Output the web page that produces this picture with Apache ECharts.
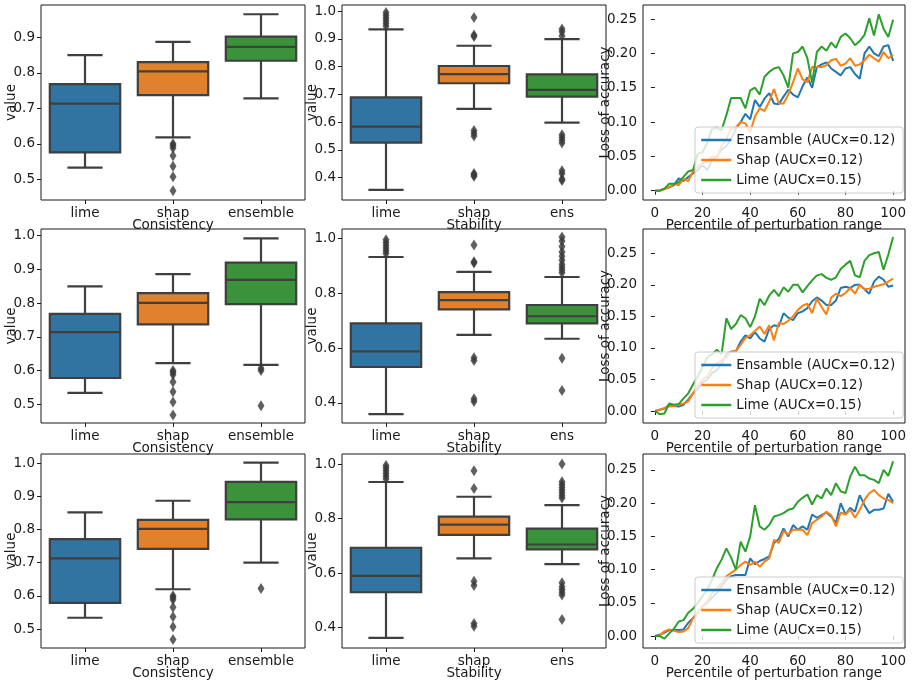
<!DOCTYPE html>
<html><head><meta charset="utf-8">
<script src="https://cdn.jsdelivr.net/npm/echarts@6/dist/echarts.min.js"></script>
<style>html,body{margin:0;padding:0;background:#fff}#c{width:912px;height:682px}</style>
</head><body><div id="c"></div>
<script>
// ---------------- DATA ----------------
const consistCats = ['lime', 'shap', 'ensemble'];
const stabCats = ['lime', 'shap', 'ens'];
// box stats: [low whisker, Q1, median, Q3, high whisker] for each method
const consistBoxR1 = [[0.533,0.576,0.713,0.768,0.850],[0.618,0.737,0.804,0.830,0.887],[0.728,0.834,0.873,0.902,0.965]];
const consistOutR1 = [[], [0.600,0.595,0.588,0.566,0.537,0.507,0.468], []];
const consistBoxR2 = [[0.534,0.578,0.714,0.768,0.850],[0.622,0.737,0.801,0.830,0.886],[0.617,0.797,0.869,0.920,0.992]];
const consistOutR2 = [[], [0.600,0.595,0.588,0.566,0.537,0.507,0.468], [0.607,0.600,0.496]];
const consistBoxR3 = [[0.534,0.579,0.713,0.771,0.852],[0.620,0.742,0.802,0.829,0.887],[0.700,0.831,0.883,0.944,1.002]];
const consistOutR3 = [[], [0.600,0.595,0.588,0.566,0.537,0.507,0.468], [0.622]];

const stabBoxR1 = [[0.356,0.526,0.584,0.689,0.934],[0.648,0.740,0.773,0.802,0.875],[0.598,0.692,0.716,0.772,0.899]];
const stabOutR1 = [[0.945,0.955,0.965,0.975,0.985,0.995],[0.977,0.914,0.908,0.570,0.560,0.550,0.415,0.410,0.405],[0.935,0.925,0.910,0.555,0.545,0.535,0.525,0.425,0.415,0.395,0.390]];
const stabBoxR2 = [[0.359,0.531,0.588,0.690,0.932],[0.648,0.741,0.775,0.804,0.878],[0.634,0.690,0.716,0.757,0.859]];
const stabOutR2 = [[0.945,0.955,0.965,0.975,0.985,0.995],[0.976,0.915,0.910,0.565,0.555,0.415,0.405],[1.005,0.990,0.970,0.950,0.935,0.920,0.905,0.895,0.885,0.875,0.563,0.445]];
const stabBoxR3 = [[0.363,0.530,0.590,0.693,0.934],[0.654,0.740,0.778,0.807,0.880],[0.633,0.687,0.705,0.763,0.849]];
const stabOutR3 = [[0.945,0.955,0.965,0.975,0.985,0.995],[0.975,0.910,0.570,0.555,0.415,0.405],[1.000,0.935,0.925,0.915,0.905,0.895,0.885,0.875,0.565,0.550,0.540,0.530,0.520,0.430]];

const percentile = [0,2,4,6,8,10,12,14,16,18,20,22,24,26,28,30,32,34,36,38,40,42,44,46,48,50,52,54,56,58,60,62,64,66,68,70,72,74,76,78,80,82,84,86,88,90,92,94,96,98,100];
const lineNames = ['Ensamble (AUCx=0.12)', 'Shap (AUCx=0.12)', 'Lime (AUCx=0.15)'];

const ensR1 = [0,0,0.003,0.005,0.008,0.018,0.014,0.02,0.025,0.03,0.037,0.03,0.045,0.05,0.06,0.065,0.075,0.09,0.1,0.112,0.104,0.132,0.122,0.134,0.142,0.127,0.126,0.137,0.147,0.14,0.136,0.152,0.165,0.15,0.18,0.184,0.187,0.178,0.173,0.168,0.178,0.18,0.17,0.163,0.2,0.21,0.2,0.196,0.21,0.212,0.189];
const shapR1 = [0,0,0.002,0.005,0.01,0.008,0.017,0.014,0.028,0.035,0.04,0.042,0.05,0.048,0.065,0.075,0.09,0.092,0.1,0.098,0.085,0.108,0.12,0.116,0.13,0.148,0.127,0.127,0.14,0.158,0.178,0.162,0.158,0.18,0.18,0.18,0.183,0.19,0.192,0.182,0.185,0.193,0.182,0.184,0.19,0.198,0.193,0.188,0.202,0.193,0.198];
const limeR1 = [0,0,0.003,0.01,0.01,0.012,0.02,0.028,0.03,0.054,0.056,0.07,0.09,0.092,0.088,0.11,0.135,0.135,0.135,0.12,0.146,0.15,0.14,0.166,0.173,0.178,0.18,0.168,0.15,0.2,0.202,0.21,0.193,0.157,0.202,0.21,0.204,0.216,0.208,0.224,0.229,0.222,0.212,0.218,0.227,0.251,0.226,0.257,0.236,0.224,0.249];

const ensR2 = [0,0.002,0.004,0.01,0.008,0.007,0.01,0.018,0.028,0.035,0.045,0.05,0.06,0.065,0.075,0.09,0.094,0.095,0.11,0.12,0.115,0.125,0.115,0.11,0.13,0.136,0.134,0.155,0.148,0.144,0.155,0.158,0.163,0.174,0.18,0.175,0.168,0.168,0.175,0.195,0.197,0.195,0.2,0.2,0.193,0.186,0.205,0.213,0.208,0.197,0.199];
const shapR2 = [0,0.002,0.005,0.007,0.008,0.01,0.012,0.015,0.028,0.04,0.05,0.055,0.068,0.075,0.08,0.085,0.094,0.095,0.105,0.116,0.12,0.127,0.134,0.122,0.136,0.112,0.14,0.138,0.143,0.15,0.16,0.167,0.17,0.155,0.178,0.165,0.153,0.18,0.186,0.182,0.187,0.195,0.186,0.2,0.193,0.194,0.197,0.199,0.201,0.205,0.21];
const limeR2 = [0,-0.005,-0.004,0.012,0.01,0.011,0.02,0.028,0.042,0.055,0.07,0.085,0.09,0.097,0.09,0.147,0.13,0.138,0.152,0.147,0.133,0.15,0.178,0.168,0.183,0.192,0.182,0.196,0.189,0.2,0.2,0.188,0.198,0.207,0.215,0.217,0.211,0.208,0.212,0.225,0.232,0.238,0.215,0.212,0.238,0.247,0.25,0.252,0.224,0.248,0.276];

const ensR3 = [0,0.002,0.005,0.009,0.009,0.009,0.01,0.02,0.027,0.035,0.045,0.05,0.058,0.065,0.075,0.085,0.09,0.092,0.092,0.092,0.117,0.108,0.113,0.116,0.12,0.14,0.146,0.162,0.15,0.167,0.16,0.165,0.16,0.183,0.178,0.182,0.186,0.18,0.17,0.2,0.183,0.193,0.187,0.212,0.197,0.185,0.19,0.19,0.192,0.214,0.202];
const shapR3 = [0,0.001,0.007,0.01,0.008,0.006,0.007,0.012,0.027,0.035,0.045,0.052,0.065,0.072,0.08,0.09,0.095,0.1,0.107,0.112,0.107,0.112,0.104,0.112,0.117,0.145,0.14,0.158,0.153,0.16,0.16,0.16,0.152,0.17,0.175,0.18,0.187,0.182,0.165,0.186,0.183,0.19,0.178,0.19,0.205,0.215,0.22,0.212,0.207,0.205,0.2];
const limeR3 = [0,0,-0.004,0.004,0.011,0.022,0.024,0.035,0.041,0.05,0.06,0.07,0.085,0.102,0.115,0.132,0.118,0.1,0.142,0.127,0.15,0.197,0.165,0.16,0.167,0.18,0.182,0.185,0.19,0.192,0.202,0.208,0.213,0.198,0.212,0.207,0.222,0.212,0.23,0.218,0.215,0.24,0.255,0.242,0.242,0.237,0.235,0.23,0.25,0.241,0.263];

// tick values
const consistTicksR1 = [0.5,0.6,0.7,0.8,0.9];
const consistTicks = [0.5,0.6,0.7,0.8,0.9,1.0];
const stabTicksR1 = [0.4,0.5,0.6,0.7,0.8,0.9,1.0];
const stabTicks = [0.4,0.6,0.8,1.0];
const lossTicks = [0,0.05,0.10,0.15,0.20,0.25];
const pctTicks = [0,20,40,60,80,100];

// ---------------- STYLE / LAYOUT ----------------
const FONT = 'DejaVu Sans';
const FS = 13.5;
const TXT = '#1a1a1a';
const EDGE = '#3f3f3f';
const boxColors = ['#3274a1', '#e1812c', '#3a923a'];
const lineColors = ['#1f77b4', '#ff7f0e', '#2ca02c'];
const colLeft = [41, 342, 643], colW = [264, 264, 262];
const rowTop = [5, 229, 454], rowH = [195, 194, 194];
const yExt = [
  [[0.4417,0.991],[0.3197,1.0216],[-0.0136,0.2705]],
  [[0.4446,1.020],[0.327,1.034],[-0.019,0.2885]],
  [[0.4427,1.028],[0.3256,1.0367],[-0.018,0.274]]
];

const rows = [
  {cb: consistBoxR1, co: consistOutR1, ct: consistTicksR1, sb: stabBoxR1, so: stabOutR1, st: stabTicksR1, lines: [ensR1, shapR1, limeR1]},
  {cb: consistBoxR2, co: consistOutR2, ct: consistTicks, sb: stabBoxR2, so: stabOutR2, st: stabTicks, lines: [ensR2, shapR2, limeR2]},
  {cb: consistBoxR3, co: consistOutR3, ct: consistTicks, sb: stabBoxR3, so: stabOutR3, st: stabTicks, lines: [ensR3, shapR3, limeR3]}
];

function renderBox(params, api) {
  const i = api.value(0);
  const lo = api.coord([i, api.value(1)]);
  const q1 = api.coord([i, api.value(2)]);
  const md = api.coord([i, api.value(3)]);
  const q3 = api.coord([i, api.value(4)]);
  const hi = api.coord([i, api.value(5)]);
  const band = api.size([1, 0])[0];
  const bw = band * 0.8, cw = bw / 2, cx = q1[0];
  const ls = {stroke: EDGE, lineWidth: 2.2};
  return {type: 'group', children: [
    {type: 'line', shape: {x1: cx, y1: lo[1], x2: cx, y2: q1[1]}, style: ls},
    {type: 'line', shape: {x1: cx, y1: q3[1], x2: cx, y2: hi[1]}, style: ls},
    {type: 'line', shape: {x1: cx - cw/2, y1: lo[1], x2: cx + cw/2, y2: lo[1]}, style: ls},
    {type: 'line', shape: {x1: cx - cw/2, y1: hi[1], x2: cx + cw/2, y2: hi[1]}, style: ls},
    {type: 'rect', shape: {x: cx - bw/2, y: q3[1], width: bw, height: q1[1] - q3[1]}, style: {fill: boxColors[i], stroke: EDGE, lineWidth: 2.2}},
    {type: 'line', shape: {x1: cx - bw/2, y1: md[1], x2: cx + bw/2, y2: md[1]}, style: ls}
  ]};
}

const grids = [], xAxes = [], yAxes = [], series = [], legends = [];
const lab = (fmt) => ({color: TXT, fontSize: FS, fontFamily: FONT, formatter: fmt});
const tick = (vals) => ({show: true, length: 4, lineStyle: {color: TXT, width: 1}, customValues: vals});

rows.forEach((r, ri) => {
  for (let ci = 0; ci < 3; ci++) {
    const g = ri * 3 + ci;
    grids.push({left: colLeft[ci], top: rowTop[ri], width: colW[ci], height: rowH[ri], show: true, borderColor: TXT, borderWidth: 1, backgroundColor: 'transparent'});
    const nameStyle = {color: TXT, fontSize: FS, fontFamily: FONT};
    if (ci < 2) {
      const cats = ci === 0 ? consistCats : stabCats;
      xAxes.push({gridIndex: g, type: 'category', data: cats, boundaryGap: true,
        axisLine: {show: false}, axisTick: {show: true, alignWithLabel: true, length: 4, lineStyle: {color: TXT}},
        axisLabel: {color: TXT, fontSize: FS, fontFamily: FONT, margin: 6},
        name: ci === 0 ? 'Consistency' : 'Stability', nameLocation: 'middle', nameGap: 18, nameMoveOverlap: false, nameTextStyle: nameStyle});
      const ticks = ci === 0 ? r.ct : r.st;
      yAxes.push({gridIndex: g, type: 'value', min: yExt[ri][ci][0], max: yExt[ri][ci][1],
        splitLine: {show: false}, axisLine: {show: false},
        axisTick: tick(ticks), axisLabel: Object.assign(lab(v => v.toFixed(1)), {customValues: ticks, margin: 6}),
        name: 'value', nameLocation: 'middle', nameGap: 23, nameRotate: 90, nameMoveOverlap: false, nameTextStyle: nameStyle});
      const box = ci === 0 ? r.cb : r.sb;
      const outs = ci === 0 ? r.co : r.so;
      series.push({type: 'custom', xAxisIndex: g, yAxisIndex: g, renderItem: renderBox,
        encode: {x: 0, y: [1, 2, 3, 4, 5]},
        data: box.map((b, k) => [k].concat(b))});
      const od = [];
      outs.forEach((arr, k) => arr.forEach(v => od.push([k, v])));
      series.push({type: 'scatter', xAxisIndex: g, yAxisIndex: g, data: od, symbol: 'diamond', symbolSize: [7, 11],
        itemStyle: {color: '#383838'}, z: 3});
    } else {
      xAxes.push({gridIndex: g, type: 'value', min: -5, max: 105, splitLine: {show: false}, axisLine: {show: false},
        axisTick: tick(pctTicks), axisLabel: Object.assign(lab(v => String(v)), {customValues: pctTicks, margin: 6}),
        name: 'Percentile of perturbation range', nameLocation: 'middle', nameGap: 18, nameMoveOverlap: false, nameTextStyle: nameStyle});
      yAxes.push({gridIndex: g, type: 'value', min: yExt[ri][ci][0], max: yExt[ri][ci][1], splitLine: {show: false}, axisLine: {show: false},
        axisTick: tick(lossTicks), axisLabel: Object.assign(lab(v => v.toFixed(2)), {customValues: lossTicks, margin: 6}),
        name: 'Loss of accuracy', nameLocation: 'middle', nameGap: 31, nameRotate: 90, nameMoveOverlap: false, nameTextStyle: nameStyle});
      r.lines.forEach((vals, k) => {
        series.push({type: 'line', name: lineNames[k], xAxisIndex: g, yAxisIndex: g, symbol: 'none', showSymbol: false,
          data: percentile.map((p, j) => [p, vals[j]]),
          lineStyle: {color: lineColors[k], width: 2}, itemStyle: {color: lineColors[k]}, z: 2 + k * 0.1});
      });
      legends.push({left: 695, top: rowTop[ri] + (ri === 0 ? 122 : 123), orient: 'vertical', data: lineNames,
        itemWidth: 30, itemHeight: 14, itemGap: 6, padding: [6, 8, 6, 5],
        itemStyle: {opacity: 0}, lineStyle: {width: 2.5},
        borderColor: '#cccccc', borderWidth: 1, borderRadius: 3, backgroundColor: 'rgba(255,255,255,0.8)',
        textStyle: {color: TXT, fontSize: FS, fontFamily: FONT}, selectedMode: false});
    }
  }
});

const chart = echarts.init(document.getElementById('c'), null, {renderer: 'canvas'});
chart.setOption({
  animation: false,
  backgroundColor: '#fff',
  textStyle: {fontFamily: FONT},
  grid: grids, xAxis: xAxes, yAxis: yAxes, series: series, legend: legends
});
</script></body></html>
